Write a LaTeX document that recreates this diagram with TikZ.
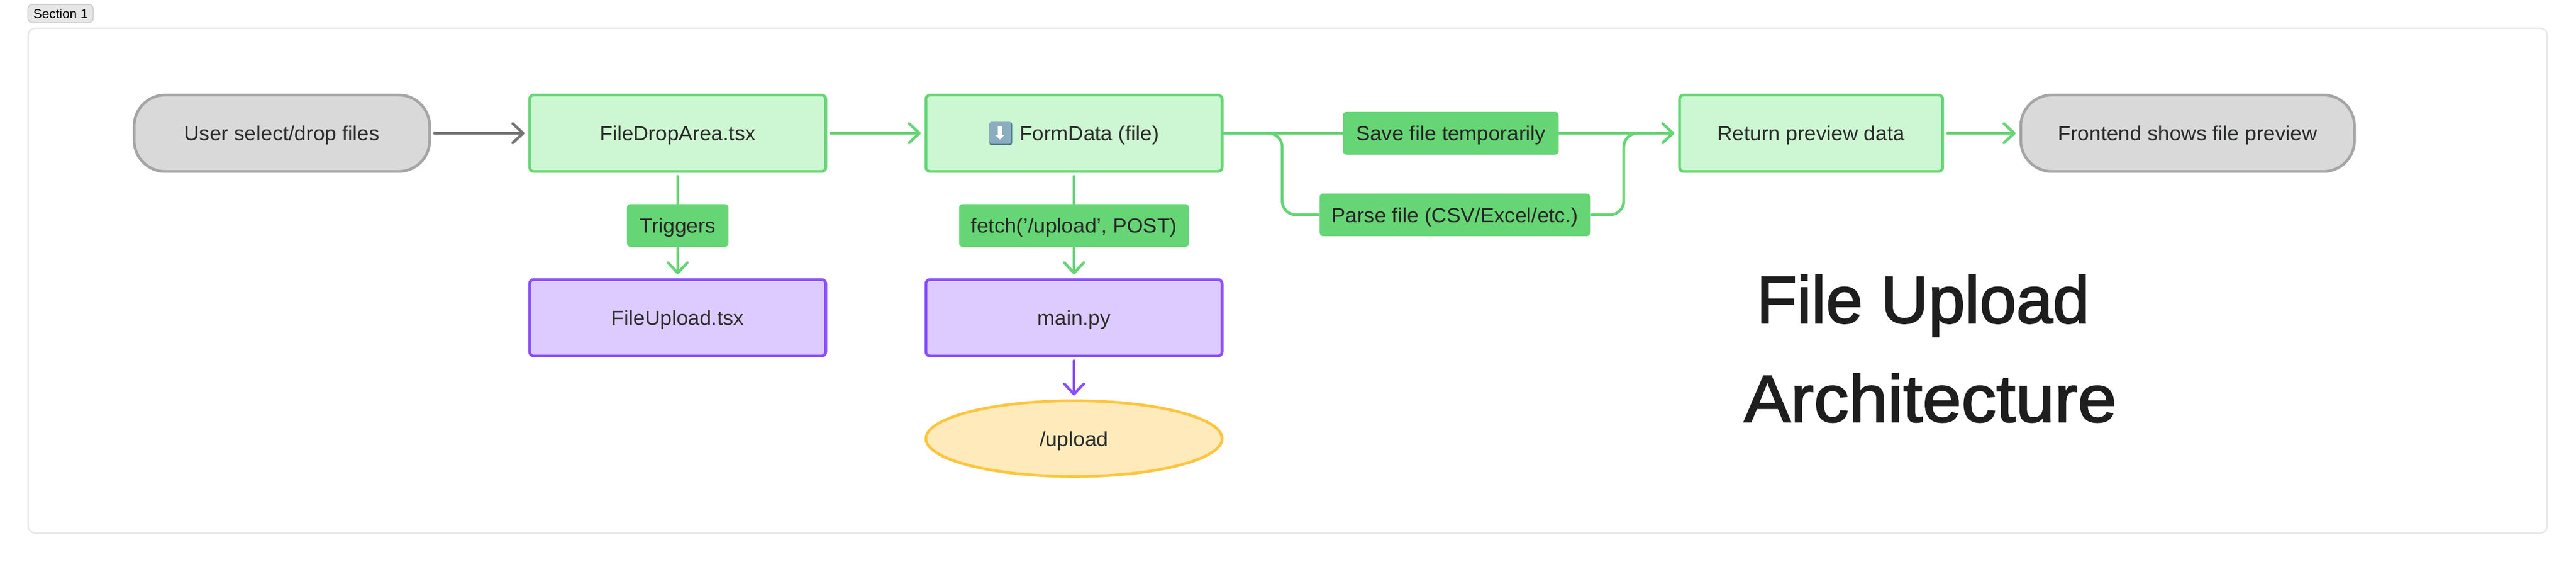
\documentclass[tikz,border=0pt]{standalone}
\usepackage{fontspec}
\setmainfont{Liberation Sans}[FakeStretch=1.03]
\newfontfamily\arrowfont{DejaVu Sans}
\newfontfamily\titlefontone{Liberation Sans}[FakeStretch=.99,FakeBold=2]
\newfontfamily\titlefonttwo{Liberation Sans}[FakeStretch=1.05,FakeBold=2]
\usepackage{tikz}
\usetikzlibrary{arrows.meta,shapes.geometric}

\definecolor{greenline}{HTML}{66D575}
\definecolor{greenfill}{HTML}{CDF6D2}
\definecolor{greyline}{HTML}{A5A5A5}
\definecolor{greyfill}{HTML}{D9D9D9}
\definecolor{greyarrow}{HTML}{757575}
\definecolor{purpleline}{HTML}{8A4FFF}
\definecolor{purplefill}{HTML}{DDCBFF}
\definecolor{yellowline}{HTML}{FFC53D}
\definecolor{yellowfill}{HTML}{FEEABB}
\definecolor{framegrey}{HTML}{E6E6E6}
\definecolor{tagline}{HTML}{C4C4C4}
\definecolor{keyblue}{HTML}{8AADC0}
\definecolor{keyedge}{HTML}{4A7A90}
\definecolor{bodytext}{HTML}{2B2E2B}
\definecolor{titletext}{HTML}{1E1E1E}

\tikzset{
  base/.style={text=bodytext, font=\fontsize{16.8}{20}\selectfont, text height=.43cm, text depth=0cm, inner sep=0pt, line width=.08cm},
  startstop/.style={base, draw=greyline, fill=greyfill, rounded corners=.9cm, minimum height=2.22cm},
  frontbox/.style={base, draw=greenline, fill=greenfill, rounded corners=.12cm, minimum width=8.61cm, minimum height=2.22cm},
  backbox/.style={base, draw=purpleline, fill=purplefill, rounded corners=.12cm, minimum width=8.61cm, minimum height=2.22cm},
  endpoint/.style={base, ellipse, draw=yellowline, fill=yellowfill, minimum width=8.61cm, minimum height=2.20cm},
  steplabel/.style={base, fill=greenline, draw=none, text=black!85, rounded corners=.1cm, minimum height=1.24cm},
  titleline/.style={text=titletext, text height=1.38cm, text depth=0cm, inner sep=0pt},
  flow/.style={draw=greenline, line width=.08cm, line cap=round, shorten <=.1cm, shorten >=.11cm, -{Straight Barb[length=.3cm,width=.56cm,round]}},
  branch/.style={draw=greenline, line width=.08cm, line cap=round, rounded corners=.4cm}
}

\begin{document}
\begin{tikzpicture}
  \useasboundingbox (0,0) rectangle (74.88,-16.32);

  \node[draw=framegrey, line width=.04cm, rounded corners=.2cm, minimum width=73.22cm, minimum height=14.66cm, inner sep=0pt] (frame) at (37.43,-8.15) {};
  \node[draw=tagline, fill=framegrey, line width=.02cm, rounded corners=.13cm, minimum width=1.90cm, minimum height=.53cm, inner sep=0pt, text=black, text height=.27cm, text depth=0cm, font=\fontsize{10.5}{12}\selectfont] (section) at (1.76,-.395) {Section 1};

  \node[startstop, minimum width=8.59cm] (userdrop) at (8.195,-3.87) {User select/drop files};
  \node[frontbox] (filedrop) at (19.70,-3.87) {FileDropArea.tsx};
  \node[frontbox] (formdata) at (31.22,-3.87) {\hspace{.89cm}FormData (file)};
  \node[frontbox, minimum width=7.65cm] (returndata) at (52.645,-3.87) {Return preview data};
  \node[startstop, minimum width=9.70cm] (filepreview) at (63.59,-3.87) {Frontend shows file preview};

  \node[backbox] (fileupload) at (19.70,-9.23) {FileUpload.tsx};
  \node[backbox] (mainpy) at (31.22,-9.23) {main.py};
  \node[endpoint] (upload) at (31.22,-12.74) {/upload};

  \node[fill=keyedge, rounded corners=.06cm, minimum width=.66cm, minimum height=.67cm, inner sep=0pt] (formkeyedge) at (29.09,-3.88) {};
  \node[fill=keyblue, rounded corners=.05cm, minimum width=.63cm, minimum height=.63cm, inner sep=0pt, text=white, font=\arrowfont\fontsize{15}{16}\selectfont] (formkey) at (29.075,-3.86) {⬇};

  \node[steplabel, minimum width=7.86cm] (parsefile) at (42.29,-6.24) {Parse file (CSV/Excel/etc.)};

  \coordinate (forkdown) at (37.27,-3.87);
  \coordinate (forkup) at (47.20,-3.87);
  \coordinate (joinpoint) at (48.00,-3.87);
  \draw[branch] (formdata.east) -- (forkdown) |- (parsefile.west);
  \draw[branch] (parsefile.east) -| (forkup) -- (joinpoint);

  \path (userdrop) edge[flow, draw=greyarrow] (filedrop);
  \path (filedrop) edge[flow] (formdata);
  \path (returndata) edge[flow] (filepreview);
  \path (filedrop) edge[flow] node[steplabel, minimum width=2.95cm] (triggers) {Triggers} (fileupload);
  \path (formdata) edge[flow] node[steplabel, minimum width=6.68cm] (fetch) {fetch('/upload', POST)} (mainpy);
  \path (formdata) edge[flow] node[steplabel, minimum width=6.27cm] (savefile) {Save file temporarily} (returndata);
  \path (mainpy) edge[flow, draw=purpleline] (upload);

  \node[titleline, font=\titlefontone\fontsize{55}{60}\selectfont] (titleone) at (55.90,-8.69) {File Upload};
  \node[titleline, font=\titlefonttwo\fontsize{55}{60}\selectfont] (titletwo) at (56.11,-11.56) {Architecture};
\end{tikzpicture}
\end{document}
